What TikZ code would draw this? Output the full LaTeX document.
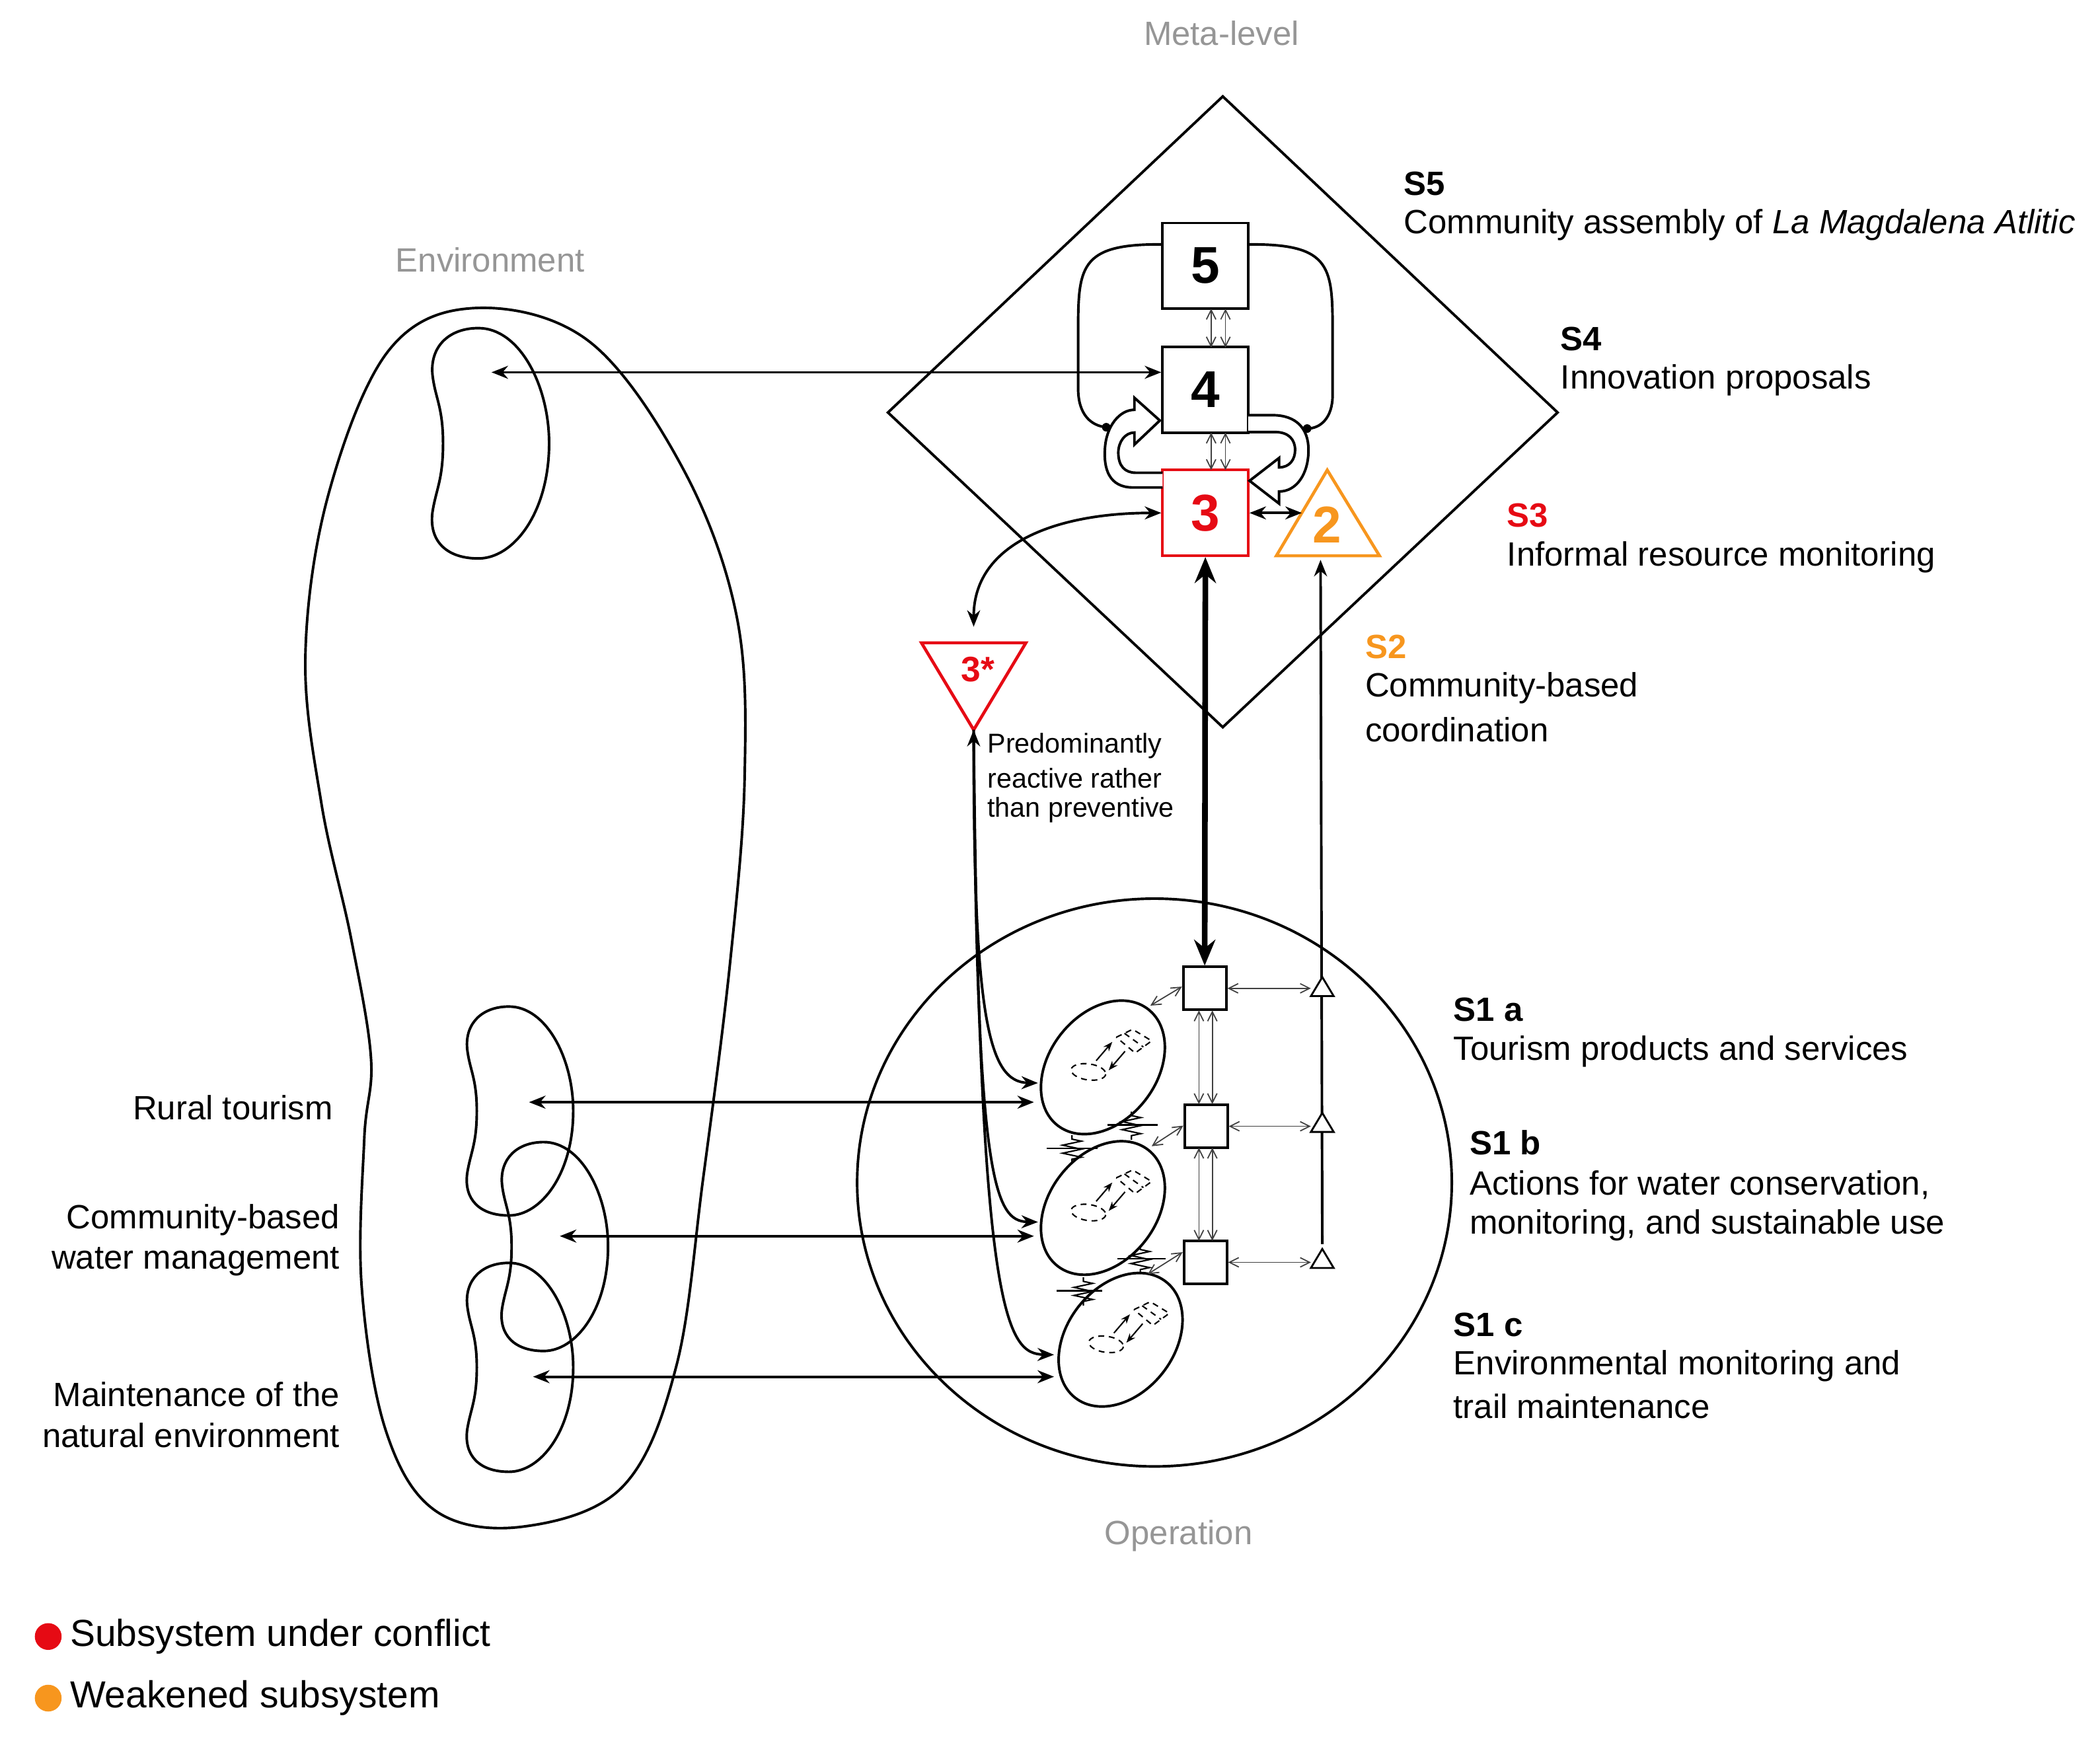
\documentclass[tikz,border=0pt]{standalone}
\usepackage{fontspec}
\setmainfont{Liberation Sans}
\usetikzlibrary{arrows.meta,decorations.pathmorphing,calc}
\definecolor{cred}{RGB}{230,10,20}
\definecolor{corange}{RGB}{247,150,30}
\definecolor{cgray}{RGB}{150,150,150}
\begin{document}
\begin{tikzpicture}[x=0.02cm,y=-0.02cm,
  ln/.style={line width=1.1pt},
  dbl/.style={ln,{Stealth[length=7pt,width=5.5pt]}-{Stealth[length=7pt,width=5.5pt]}},
  thin/.style={black!75,line width=0.5pt,{Straight Barb[length=4pt,width=4pt]}-{Straight Barb[length=4pt,width=4pt]}},
  txt/.style={font=\fontsize{14.3}{16}\selectfont,inner sep=0pt},
  lab/.style={txt,anchor=west},
  bl/.style={lab,font=\fontsize{14.3}{16}\selectfont\bfseries},
  glab/.style={txt,text=cgray},
  sm/.style={lab,font=\fontsize{11.6}{13}\selectfont},
  box/.style={draw,line width=1.1pt,minimum size=1.28cm,inner sep=0pt,font=\fontsize{22}{24}\selectfont\bfseries},
  sbox/.style={draw,line width=1.1pt,minimum size=0.64cm,inner sep=0pt},
  kidney/.pic={\draw[ln] (0.4,0) .. controls (0.75,0) and (1,0.25) .. (1,0.5) .. controls (1,0.8) and (0.7,1) .. (0.4,1) .. controls (0.12,1) and (-0.02,0.92) .. (0.01,0.8) .. controls (0.04,0.7) and (0.1,0.66) .. (0.1,0.5) .. controls (0.1,0.34) and (0.03,0.3) .. (0.01,0.2) .. controls (-0.01,0.08) and (0.15,0) .. (0.4,0) -- cycle;}
]
\useasboundingbox (0,0) rectangle (1568,1306);

% ---------- texts
\node[glab] (meta) at (912,25) {Meta-level};
\node[glab] (envt) at (366,194) {Environment};
\node[glab] (opt) at (880,1147) {Operation};
\node[bl] (s5) at (1048,137) {S5};
\node[lab] (s5t) at (1048,168) {Community assembly of \textit{La Magdalena Atlitic}};
\node[bl] (s4) at (1165,253) {S4};
\node[lab] (s4t) at (1165,284) {Innovation proposals};
\node[bl,text=cred] (s3) at (1125,385) {S3};
\node[lab] (s3t) at (1125,416) {Informal resource monitoring};
\node[bl,text=corange] (s2) at (1019,483) {S2};
\node[lab] (s2t) at (1019,514) {Community-based};
\node[lab] (s2u) at (1019,545) {coordination};
\node[sm] (pr1) at (737,557) {Predominantly};
\node[sm] (pr2) at (737,581) {reactive rather};
\node[sm] (pr3) at (737,605) {than preventive};
\node[bl] (s1a) at (1085,754) {S1 a};
\node[lab] (s1at) at (1085,785) {Tourism products and services};
\node[bl] (s1b) at (1097,853) {S1 b};
\node[lab] (s1bt) at (1097,885) {Actions for water conservation,};
\node[lab] (s1bu) at (1097,915) {monitoring, and sustainable use};
\node[bl] (s1c) at (1085,989) {S1 c};
\node[lab] (s1ct) at (1085,1020) {Environmental monitoring and};
\node[lab] (s1cu) at (1085,1050) {trail maintenance};
\node[txt,anchor=east] (rt) at (249,827) {Rural tourism};
\node[txt,anchor=east] (cw1) at (254,911) {Community-based};
\node[txt,anchor=east] (cw2) at (254,942) {water management};
\node[txt,anchor=east] (mn1) at (254,1041) {Maintenance of the};
\node[txt,anchor=east] (mn2) at (254,1072) {natural environment};
\fill[cred] (36,1222) circle (10);
\node[lab,font=\fontsize{16}{18}\selectfont] (lg1) at (52,1222) {Subsystem under conflict};
\fill[corange] (36,1268) circle (10);
\node[lab,font=\fontsize{16}{18}\selectfont] (lg2) at (52,1268) {Weakened subsystem};

% ---------- environment
\draw[ln] plot[smooth cycle,tension=0.6] coordinates {(355,230) (440,255) (510,350) (550,460) (556,580) (545,720) (525,880) (505,1020) (465,1110) (390,1140) (325,1128) (288,1068) (270,960) (272,850) (277,790) (262,700) (240,600) (228,490) (245,370) (290,262)};
\pic[shift={(322,245)},xscale=88,yscale=172] {kidney};
\pic[shift={(348,751.6)},xscale=80,yscale=156] {kidney};
\pic[shift={(374,852.8)},xscale=80,yscale=156] {kidney};
\pic[shift={(348,943)},xscale=80,yscale=156] {kidney};

% ---------- meta system
\draw[ln] (913,72) -- (1163,308) -- (913,543) -- (663,308) -- cycle;
\node[box] (b5) at (900,198.5) {5};
\node[box] (b4) at (900,291) {4};
\node[box,draw=cred,text=cred] (b3) at (900,383) {3};
\coordinate (t2a) at (991,351);
\draw[corange,line width=1.3pt] (t2a) -- (1030,415) -- (953,415) -- cycle;
\node[font=\fontsize{22}{24}\selectfont\bfseries,text=corange] (t2) at (991,392) {2};

% loops
\draw[ln] (b5.west |- 0,182.5) .. controls (805,182) and (805,200) .. (805,250) -- (805,290) .. controls (805,310) and (815,318) .. (826,319);
\fill (826,319) circle (3.2);
\draw[ln] (b5.east |- 0,182.5) .. controls (995,182) and (995,200) .. (995,250) -- (995,295) .. controls (995,312) and (986,320) .. (976,320);
\fill (976,320) circle (3.2);

% hollow arrows
\draw[ln,fill=white] (868,364) -- (846,364) .. controls (828,364) and (824,350) .. (825,335) .. controls (826,318) and (836,306) .. (847,306) -- (847,297) -- (866,314) -- (847,332) -- (847,323) .. controls (840,323) and (835,330) .. (835,338) .. controls (835,348) and (840,353) .. (848,353) -- (868,353);
\draw[ln,fill=white] (932,310) -- (950,310) .. controls (968,310) and (977,320) .. (977,336) .. controls (977,354) and (968,367) .. (955,367) -- (955,376) -- (933,359) -- (955,342) -- (955,349) .. controls (963,349) and (967,343) .. (967,336) .. controls (967,328) and (962,322.6) .. (952,322.6) -- (932,322.6);

\foreach \xx in {904.3,915}{
 \draw[thin] (\xx,230.5) -- (\xx,259.5);
 \draw[thin] (\xx,323) -- (\xx,351);
}
\coordinate (envtop) at (367,278);
\draw[dbl] (envtop) -- (envtop -| b4.west);
\draw[dbl] (b3.east |- 0,383) -- (972,383);

% ---------- 3*
\coordinate (st) at (727,545);
\draw[cred,line width=1.3pt] (688,480) -- (766,480) -- (st) -- cycle;
\node[font=\fontsize{15}{17}\selectfont\bfseries,text=cred] (s3s) at (730,500) {3*};
\draw[dbl] (727,468) .. controls (727,405) and (790,383) .. (b3.west |- 0,383);

% ---------- operation
\draw[ln] (862,883) ellipse [x radius=222, y radius=212];
\node[sbox] (ba) at (899.5,738) {};
\node[sbox] (bb) at (900.5,841) {};
\node[sbox] (bc) at (900,942.6) {};
\draw[line width=2.4pt,{Stealth[length=11pt,width=9pt]}-{Stealth[length=11pt,width=9pt]}] (b3.south) -- (ba.north);
\foreach \xx in {895.2,905.2}{
 \draw[thin] (\xx,754.5) -- (\xx,824.5);
 \draw[thin] (\xx,857) -- (\xx,926.5);
}
\draw[ln,-{Stealth[length=7pt,width=5.5pt]}] (987.3,929) -- (986,418);
\foreach \ty/\nm in {729.6/ta,831/tb,932.6/tc}{
 \draw[line width=0.8pt,fill=white] (987.3,\ty) -- (995.8,\ty+14.2) -- (978.8,\ty+14.2) -- cycle;
 \coordinate (\nm) at (978.8,\ty+8);
}
\draw[thin] (ba.east) -- (ta |- ba.east);
\draw[thin] (bb.east) -- (tb |- bb.east);
\draw[thin] (bc.east) -- (tc |- bc.east);

\coordinate (e1) at (823.5,797);
\coordinate (e2) at (823.5,902);
\coordinate (e3) at (836.7,1000.4);
\foreach \e in {e1,e2,e3}{
 \draw[ln,rotate around={52:(\e)}] (\e) ellipse [x radius=55, y radius=40];
 \begin{scope}[shift={(\e)}]
  \draw[line width=0.6pt,dash pattern=on 2.5pt off 2pt,rotate around={-8:(-10.8,3.4)}] (-10.8,3.4) ellipse [x radius=13, y radius=6];
  \draw[line width=0.6pt,dash pattern=on 2.5pt off 2pt] (10,-22.5) -- (22.2,-28.4) -- (36.4,-19.8) -- (24.1,-10.7) -- cycle (16.1,-25.4) -- (30.2,-15.2);
  \draw[line width=0.6pt,-{Stealth[length=4pt,width=3pt]}] (-5,-5) -- (7,-19);
  \draw[line width=0.6pt,-{Stealth[length=4pt,width=3pt]}] (16.5,-12) -- (4.3,2.2);
 \end{scope}
}
\draw[thin] (ba.west |- 0,736.7) -- (858.9,750.9);
\draw[thin] (bb.west |- 0,840.5) -- (859.9,855.9);
\draw[thin] (bc.west |- 0,935) -- (857,951.4);

% springs: coil of short strokes with a cross bar
\foreach \sx/\sy/\la/\lb in {844.8/830/826.8/864.6, 800.4/847.6/781.5/819.3, 851.4/930/834.4/870.3, 808.9/953.8/789/823}{
 \draw[line width=0.6pt] (\la,\sy+10) -- (\lb,\sy+10);
 \draw[line width=0.6pt] (\sx,\sy) -- (\sx,\sy+3) -- (\sx+7,\sy+4.5) -- (\sx-7,\sy+7.5) -- (\sx+7,\sy+10.5) -- (\sx-7,\sy+13.5) -- (\sx+7,\sy+16.5) -- (\sx,\sy+18) -- (\sx,\sy+21);
}

\draw[dbl] (395,823) -- (772,823);
\draw[dbl] (418,923) -- (772,923);
\draw[dbl] (398,1028) -- (787,1028);

\draw[ln,{Stealth[length=7pt,width=5.5pt]}-{Stealth[length=7pt,width=5.5pt]}] (st) .. controls (727,760) and (738,808) .. (775,808.7);
\draw[ln,-{Stealth[length=7pt,width=5.5pt]}] (st) .. controls (729,880) and (742,912) .. (775,912.5);
\draw[ln,-{Stealth[length=7pt,width=5.5pt]}] (st) .. controls (731,985) and (752,1011) .. (787,1011.6);
\end{tikzpicture}
\end{document}
